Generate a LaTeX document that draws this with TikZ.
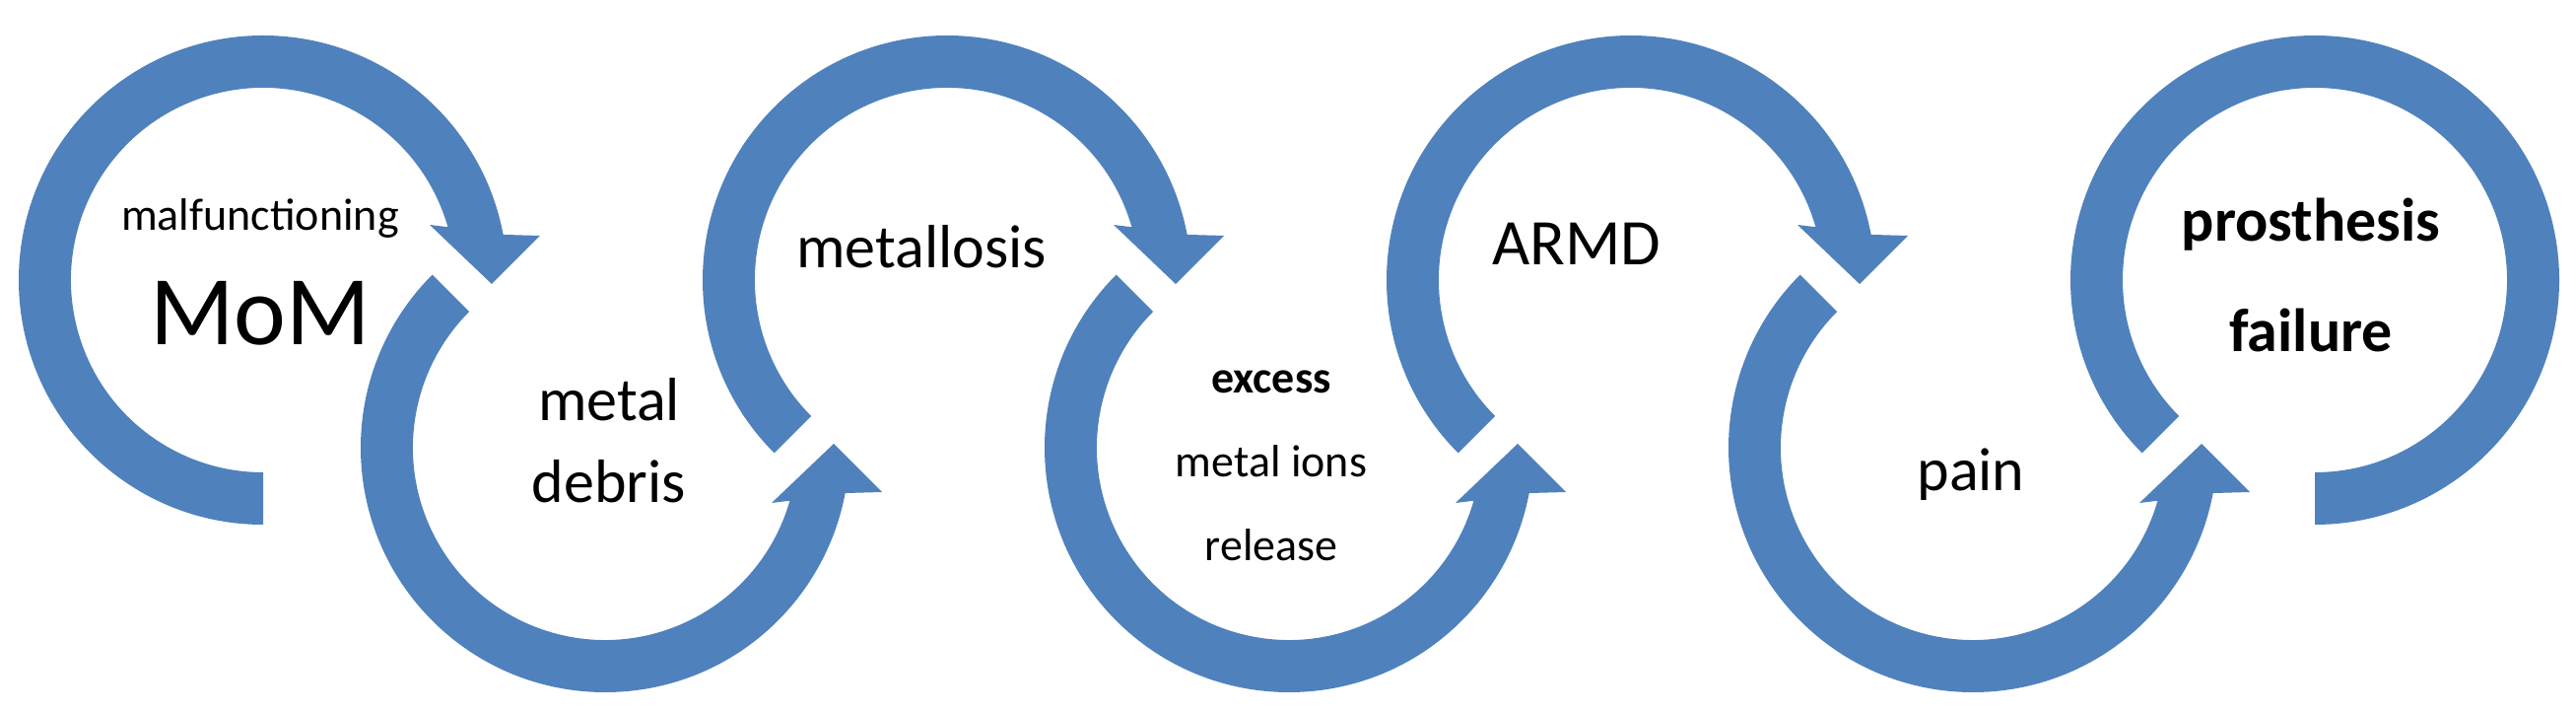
\documentclass[tikz,border=0pt]{standalone}
\usetikzlibrary{calc}
\usepackage{fontspec}
\setmainfont{Carlito}
\definecolor{ringblue}{HTML}{4F81BD}
\begin{document}
\begin{tikzpicture}[x=1pt,y=1pt,
  ring/.style={fill=ringblue,draw=none},
  lbl/.style={inner sep=0pt,align=center,text=black}]
\useasboundingbox (0,0) rectangle (2614,722);
\def\Ro{248}\def\Ri{195}
\newcommand{\topring}[2]{%
  \fill[ring] ($(#1)+(#2:\Ro)$) arc[start angle=#2,end angle=10.7,radius=\Ro]
    -- ($(#1)+(281,45)$) -- ($(#1)+(232,-4)$) -- ($(#1)+(169,56)$)
    -- ($(#1)+(16:\Ri)$) arc[start angle=16,end angle=#2,radius=\Ri] -- cycle;}
\newcommand{\botring}[2]{%
  \fill[ring] ($(#1)+(#2:\Ro)$) arc[start angle=#2,end angle=349.3,radius=\Ro]
    -- ($(#1)+(281,-45)$) -- ($(#1)+(232,4)$) -- ($(#1)+(169,-56)$)
    -- ($(#1)+(344:\Ri)$) arc[start angle=344,end angle=#2,radius=\Ri] -- cycle;}
\coordinate (c0) at (267,438);
\coordinate (c1) at (614,268);
\coordinate (c2) at (961,438);
\coordinate (c3) at (1308,268);
\coordinate (c4) at (1655,438);
\coordinate (c5) at (2002,268);
\coordinate (c6) at (2349,438);
\topring{c0}{270}
\botring{c1}{135}
\topring{c2}{225}
\botring{c3}{135}
\topring{c4}{225}
\botring{c5}{135}
\fill[ring] ($(c6)+(225:\Ro)$) arc[start angle=225,end angle=-90,radius=\Ro]
  -- ($(c6)+(-90:\Ri)$) arc[start angle=-90,end angle=225,radius=\Ri] -- cycle;
\node[lbl,font=\fontsize{46}{50}\selectfont] (t0a) at (264,501) {malfunctioning};
\node[lbl,font=\fontsize{100}{110}\selectfont] (t0b) at (264,404) {MoM};
\node[lbl,font=\fontsize{62}{83}\selectfont] (t1) at (618,275) {metal\\debris};
\node[lbl,font=\fontsize{62}{70}\selectfont] (t2) at (935,472) {metallosis};
\node[lbl,font=\fontsize{46}{85}\selectfont] (t3) at (1290,250) {\textbf{excess}\\metal ions\\release};
\node[lbl,font=\fontsize{66}{70}\selectfont] (t4) at (1600,475) {ARMD};
\node[lbl,font=\fontsize{62}{70}\selectfont] (t5) at (2000,241) {pain};
\node[lbl,font=\fontsize{62}{112}\selectfont\bfseries] (t6) at (2345,443) {prosthesis\\failure};
\end{tikzpicture}
\end{document}
